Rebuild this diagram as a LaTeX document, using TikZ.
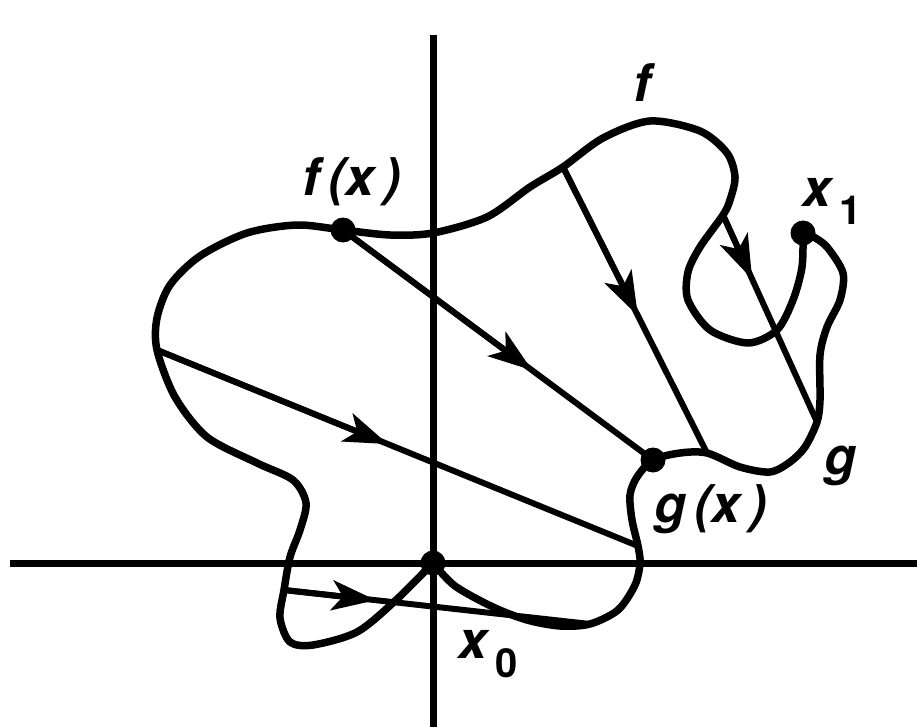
\documentclass[tikz,border=0pt]{standalone}
\usepackage{fontspec}
\setmainfont{TeX Gyre Heros}
\usetikzlibrary{arrows.meta,calc}
\begin{document}
\begin{tikzpicture}[x=1pt,y=-1pt,
  curve/.style={line width=7.5pt,line join=round,line cap=round},
  axis/.style={line width=7pt},
  hline/.style={line width=6pt},
  tipped/.style={-{Stealth[length=44pt,width=30pt,inset=11pt]}},
  dot/.style={circle,fill=black,inner sep=0pt,minimum size=25pt},
  lbl/.style={font=\fontsize{52}{52}\selectfont\bfseries\itshape,inner sep=0pt,anchor=base west}]
\useasboundingbox (0,0) rectangle (917,727);
% axes
\coordinate (vtop) at (433,35);
\coordinate (vbot) at (433,727);
\coordinate (hl) at (10,563);
\coordinate (hr) at (917,563);
\draw[axis] (vtop) -- (vbot);
\draw[axis] (hl) -- (hr);
% points
\node[dot] (x0) at (433,563) {};
\node[dot] (fx) at (343,230) {};
\node[dot] (gx) at (653,460) {};
\node[dot] (x1) at (803,233) {};
% homotopy endpoints
\coordinate (p5s) at (284,590);
\coordinate (p5e) at (590,624);
\coordinate (p2s) at (157,350);
\coordinate (p2e) at (638,546);
\coordinate (p3s) at (563,167);
\coordinate (p3e) at (707,453);
\coordinate (p4s) at (723,215);
\coordinate (p4e) at (817,422);
% arrow tip positions
\coordinate (t1) at ($(fx.center)!0.61!(gx.center)$);
\coordinate (t2) at ($(p2s)!0.48!(p2e)$);
\coordinate (t3) at ($(p3s)!0.52!(p3e)$);
\coordinate (t4) at ($(p4s)!0.31!(p4e)$);
\coordinate (t5) at ($(p5s)!0.30!(p5e)$);
% curve f
\draw[curve] plot[smooth] coordinates {(x0.center) (395,601) (357,632) (313,645) (290,642) (280,618) (p5s) (290,557) (300,530) (306,503) (293,480) (257,463) (207,437) (175,397) (p2s) (157,318) (170,285) (200,256) (247,233) (297,225) (fx.center) (390,235) (433,233) (487,217) (530,187) (p3s) (603,138) (650,121) (700,131) (727,153) (735,177) (730,200) (p4s) (700,247) (688,272) (688,300) (710,330) (748,343) (777,330) (793,300) (802,267) (x1.center)};
% curve g
\draw[curve] plot[smooth] coordinates {(x0.center) (455,586) (493,607) (527,620) (560,626) (p5e) (618,610) (635,585) (640,563) (p2e) (632,520) (630,495) (637,477) (gx.center) (680,453) (p3e) (740,467) (770,472) (790,462) (805,447) (p4e) (820,400) (820,355) (827,327) (840,300) (843,273) (827,247) (812,236) (x1.center)};
% homotopy lines
\draw[hline] (fx.center) -- (gx.center);
\draw[hline] (p2s) -- (p2e);
\draw[hline] (p3s) -- (p3e);
\draw[hline] (p4s) -- (p4e);
\draw[hline] (p5s) -- (p5e);
\draw[hline,tipped] (fx.center) -- (t1);
\draw[hline,tipped] (p2s) -- (t2);
\draw[hline,tipped] (p3s) -- (t3);
\draw[hline,tipped] (p4s) -- (t4);
\draw[hline,tipped] (p5s) -- (t5);
% labels
\node[lbl] (lf) at (633,102) {f};
\node[lbl] (lfx) at (302,196) {f\,(x\,)};
\node[lbl] (lgx) at (654,522) {g\,(x\,)};
\node[lbl] (lg) at (824,474) {g};
\node[lbl] (lx1) at (802,207) {x\,\raisebox{-18pt}{\upshape\fontsize{40}{40}\selectfont 1}};
\node[lbl] (lx0) at (458,658) {x\,\raisebox{-19pt}{\upshape\fontsize{40}{40}\selectfont 0}};
\end{tikzpicture}
\end{document}
